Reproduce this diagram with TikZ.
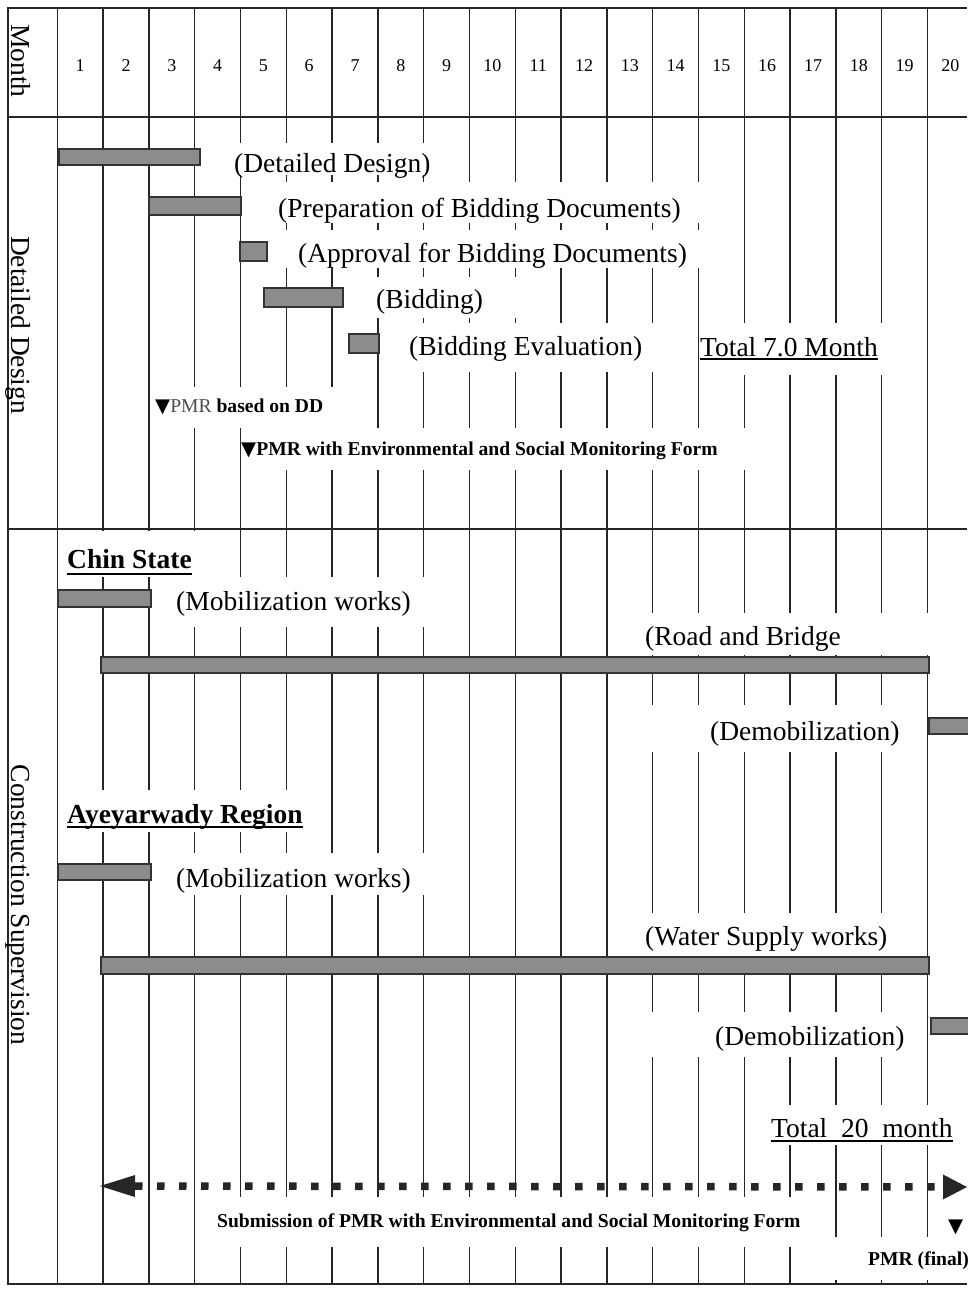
\documentclass[tikz,border=0pt]{standalone}
\usepackage{fontspec}
\setmainfont{Liberation Serif}
\newfontfamily\trifont{DejaVu Sans}
\usetikzlibrary{arrows.meta}

% type sizes (1pt = one unit of the chart grid)
\newcommand\bigf{\fontsize{27.5pt}{30pt}\selectfont}
\newcommand\smallf{\fontsize{19.6pt}{22pt}\selectfont\bfseries}
\newcommand\numf{\fontsize{18pt}{20pt}\selectfont}

% heavy underline: #1 raise, #2 thickness, #3 text
\newsavebox\ulbox
\newcommand\ulbar[3]{\sbox\ulbox{#3}\leavevmode\rlap{\rule[#1]{\wd\ulbox}{#2}}\usebox\ulbox}

% a gantt bar from (#2,#3) to (#4,#5)
\newcommand\ganttbar[5]{\node[bar, minimum width={#4-#2}, minimum height={#5-#3}] (#1) at (#2,#3) {};}
% white gap behind a label, cutting the grid lines
\newcommand\gap[4]{\fill[white] (#1,#2) rectangle (#3,#4);}

\begin{document}
\begin{tikzpicture}[x=1pt, y=-1pt,
  gridline/.style={draw=black!85, line width=1.5pt},
  rule/.style={draw=black!85, line width=2.2pt},
  bar/.style={draw=black!80, line width=1.6pt, fill=black!45, inner sep=0pt, anchor=north west},
  lbl/.style={anchor=base west, inner sep=0pt, font=\bigf},
  small/.style={anchor=base west, inner sep=0pt, font=\smallf},
  side/.style={rotate=-90, anchor=base, inner sep=0pt, font=\bigf},
  dotarrow/.style={draw=black!85, line width=7.5pt, dash pattern=on 7.5pt off 14.5pt,
    {Triangle[width=22pt,length=35pt,line width=0pt]}-{Triangle[width=25pt,length=24pt,line width=0pt]}}
]
\useasboundingbox (0,0) rectangle (967,1290);
\fill[white] (0,0) rectangle (967,1290);

% ---- grid ----
\foreach \k in {0,...,19}
  \draw[gridline] ({57.3+45.8*\k},8) -- ({57.3+45.8*\k},1284);
\draw[gridline] (8,8) -- (8,1284);
\foreach \yy in {8,117,529,1284}
  \draw[rule] (7,\yy) -- (967,\yy);

% ---- white gaps behind the labels ----
\gap{232}{143}{442}{175}
\gap{255}{182}{722}{223}
\gap{275}{230}{722}{268}
\gap{360}{277}{532}{318}
\gap{395}{323}{670}{372}
\gap{705}{323}{905}{375}
\gap{185}{387}{355}{428}
\gap{245}{428}{760}{470}
\gap{62}{531}{205}{577}
\gap{165}{577}{445}{627}
\gap{630}{613}{935}{655}
\gap{635}{705}{915}{752}
\gap{62}{790}{310}{832}
\gap{165}{853}{445}{895}
\gap{630}{913}{905}{956}
\gap{635}{1012}{915}{1057}
\gap{765}{1105}{967}{1145}
\gap{200}{1197}{805}{1247}
\gap{815}{1237}{967}{1280}

% ---- header ----
\node[side] (hmonth) at (12,61) {Month};
\foreach \k in {1,...,20}
  \node[font=\numf, inner sep=0pt, anchor=base] (mo\k) at ({57.3+45.8*(\k-0.5)},71) {\k};
\node[side] (hdd) at (12,325) {Detailed Design};
\node[side] (hcs) at (12,905) {Construction Supervision};

% ---- detailed design ----
\ganttbar{bdd}{58}{148}{199}{164}
\ganttbar{bprep}{148}{196}{240}{214}
\ganttbar{bappr}{239}{241}{266}{260}
\ganttbar{bbid}{263}{287}{342}{306}
\ganttbar{beval}{348}{333}{378}{352}

\node[lbl] (tdd)   at (234,172) {(Detailed Design)};
\node[lbl] (tprep) at (278,217) {(Preparation of Bidding Documents)};
\node[lbl] (tappr) at (298,262) {(Approval for Bidding Documents)};
\node[lbl] (tbid)  at (376,308) {(Bidding)};
\node[lbl] (teval) at (409,355) {(Bidding Evaluation)};
\node[lbl] (ttot7) at (700,356) {\ulbar{-4pt}{1.8pt}{Total 7.0 Month}};

\node[small] (pmrdd)  at (155,412) {{\trifont ▼}{\mdseries\color{black!70}PMR} based on DD};
\node[small] (pmrenv) at (241,455) {{\trifont ▼}PMR with Environmental and Social Monitoring Form};

% ---- construction supervision: Chin State ----
\node[lbl, font=\bigf\bfseries] (tchin) at (67,568) {\ulbar{-7pt}{2pt}{Chin State}};
\ganttbar{cmob}{57}{589}{150}{606}
\ganttbar{croad}{100}{656}{928}{672}
\ganttbar{cdemob}{928}{717}{980}{733}
\node[lbl] (tcmob)   at (176,610) {(Mobilization works)};
\node[lbl] (troad)   at (645,645) {(Road and Bridge};
\node[lbl] (tcdemob) at (710,740) {(Demobilization)};

% ---- construction supervision: Ayeyarwady Region ----
\node[lbl, font=\bigf\bfseries] (tayr) at (67,823) {\ulbar{-5pt}{2pt}{Ayeyarwady Region}};
\ganttbar{amob}{57}{863}{150}{879}
\ganttbar{awater}{100}{956}{928}{973}
\ganttbar{ademob}{930}{1017}{980}{1033}
\node[lbl] (tamob)   at (176,887) {(Mobilization works)};
\node[lbl] (twater)  at (645,945) {(Water Supply works)};
\node[lbl] (tademob) at (715,1045) {(Demobilization)};

\node[lbl] (ttot20) at (771,1137) {\ulbar{-5pt}{2pt}{Total\ \ 20\ \ month}};

% ---- PMR submission ----
\coordinate (subL) at (100,1186);
\coordinate (subR) at (967,1187);
\draw[dotarrow] (subL) -- (subR);
\node[small] (tsub) at (217,1227) {Submission of PMR with Environmental and Social Monitoring Form};
\node[small] (tfinmark) at (948,1232) {\trifont ▼};
\node[small] (tfinal) at (868,1265) {PMR (final)};
\end{tikzpicture}
\end{document}
